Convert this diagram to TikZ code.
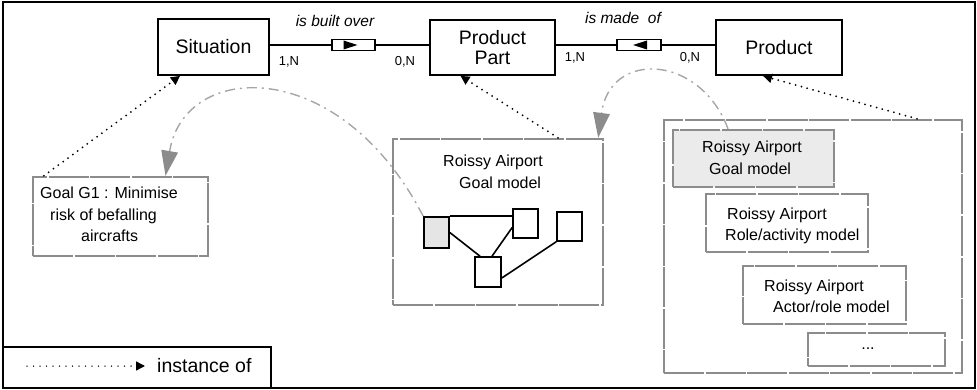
\documentclass[tikz,border=0pt]{standalone}
\usepackage{fontspec}
\setmainfont{Liberation Sans}
\usetikzlibrary{arrows.meta,calc}
\begin{document}
\begin{tikzpicture}[x=1pt,y=-1pt,
  mainbox/.style={draw,line width=1.8pt,align=center,font=\fontsize{19.5}{20}\selectfont},
  gbox/.style={draw=black!45,line width=2.4pt,dash pattern=on 40pt off 1.5pt},
  relbox/.style={draw,line width=1.6pt,inner sep=0pt},
  sq/.style={draw,line width=1.6pt,inner sep=0pt},
  txt/.style={anchor=north west,inner sep=0pt,align=left,font=\fontsize{16}{21.5}\selectfont},
  lbl/.style={inner sep=0pt,font=\fontsize{13}{14}\selectfont},
  rel/.style={inner sep=0pt,font=\itshape\fontsize{15.5}{17}\selectfont},
  inst/.style={line width=2pt,dash pattern=on 0pt off 6pt,line cap=round,-{Triangle[length=9pt,width=9pt]}},
  flow/.style={draw=black!35,line width=1.4pt,dash pattern=on 10pt off 5pt on 2pt off 5pt},
  flowhead/.style={fill=black!45},
  link/.style={line width=1.6pt}
]
\useasboundingbox (0,0) rectangle (977,390);
\draw[line width=2pt] (3,2) rectangle (975,388);

% main entities
\node[mainbox,minimum width=111pt,minimum height=56pt] (sit) at (213.5,47) {Situation};
\node[mainbox,minimum width=125pt,minimum height=55pt] (pp) at (492.5,47.5) {Product\\Part};
\node[mainbox,minimum width=126pt,minimum height=55pt] (prod) at (779,47.5) {Product};

% relation boxes
\node[relbox,minimum width=43pt,minimum height=11pt] (r1) at (353.5,45) {};
\node[relbox,minimum width=44pt,minimum height=11pt] (r2) at (639,45) {};
\fill (r1.center) ++(-10,-4.5) -- ++(0,9) -- ++(14,-4.5) -- cycle;
\fill (r2.center) ++(8,-4.5) -- ++(0,9) -- ++(-14,-4.5) -- cycle;
\draw[link] (sit.east |- r1.west) -- (r1.west);
\draw[link] (r1.east) -- (pp.west |- r1.east);
\draw[link] (pp.east |- r2.west) -- (r2.west);
\draw[link] (r2.east) -- (prod.west |- r2.east);

\node[rel] (rl1) at (335,21) {is built over};
\node[rel] (rl2) at (623,18) {is made\ \ of};
\node[lbl] (c1) at (289,62) {1,N};
\node[lbl] (c2) at (405,62) {0,N};
\node[lbl] (c3) at (575,58) {1,N};
\node[lbl] (c4) at (690,58) {0,N};

% goal G1
\node[gbox,minimum width=175pt,minimum height=79pt] (g1) at (120.5,216.5) {};
\node[txt] (tg1) at (40,187) {Goal G1 : Minimise\\\hspace*{10pt}risk of befalling\\\hspace*{41pt}aircrafts};

% goal model
\node[gbox,minimum width=210pt,minimum height=166pt] (gm) at (498,222) {};
\node[txt] (tgm) at (443,155) {Roissy Airport\\\hspace*{16pt}Goal model};
\node[sq,fill=black!10,minimum width=25pt,minimum height=31pt] (sq1) at (436.5,232.5) {};
\node[sq,minimum width=25pt,minimum height=29pt] (sq2) at (525.5,223.5) {};
\node[sq,minimum width=25pt,minimum height=29pt] (sq3) at (569.5,226.5) {};
\node[sq,minimum width=26pt,minimum height=30pt] (sq4) at (488,272) {};
\draw[link] (sq1.north east) -- (sq2.west |- sq1.north east);
\draw[link] (sq1.east) -- ([xshift=-8pt]sq4.north);
\draw[link] ([xshift=4pt]sq4.north) -- ([yshift=-4pt]sq2.west);
\draw[link] ([yshift=-6pt]sq4.east) -- (sq3.south west);

% product
\node[gbox,minimum width=298pt,minimum height=253pt] (rb) at (813,246.5) {};
\node[gbox,fill=black!8,minimum width=161pt,minimum height=57pt] (rb1) at (753.5,158.5) {};
\node[txt] (t1) at (702,141) {Roissy Airport\\\hspace*{7pt}Goal model};
\node[gbox,minimum width=162pt,minimum height=58pt] (rb2) at (787,223) {};
\node[txt] (t2) at (725,207.5) {\hspace*{2pt}Roissy Airport\\Role/activity model};
\node[gbox,minimum width=163pt,minimum height=58pt] (rb3) at (824.5,295) {};
\node[txt] (t3) at (764,279.5) {Roissy Airport\\\hspace*{9pt}Actor/role model};
\node[gbox,minimum width=137pt,minimum height=33pt] (rb4) at (876.5,349.5) {};
\node[inner sep=0pt,font=\fontsize{16}{18}\selectfont] (dots) at (868,349) {...};

% instance-of arrows
\draw[inst] ([xshift=12pt]g1.north west) -- ([xshift=-33.5pt]sit.south);
\draw[inst] ([xshift=60pt]gm.north) -- ([xshift=-32pt]pp.south);
\draw[inst] ([xshift=104pt]rb.north) -- ([xshift=-16pt]prod.south);

% gray flows
\coordinate (Ae) at ([xshift=45pt]g1.north);
\coordinate (Ac) at (185,60);
\coordinate (Ab) at ($(Ae)!25pt!(Ac)$);
\draw[flow] (sq1.north west) .. controls (340,55) and (Ac) .. (Ab);
\fill[flowhead] (Ae) -- ($(Ab)!8.5pt!90:(Ae)$) -- ($(Ab)!8.5pt!-90:(Ae)$) -- cycle;

\coordinate (Be) at ([xshift=-6pt]gm.north east);
\coordinate (Bc) at (610,50);
\coordinate (Bb) at ($(Be)!25pt!(Bc)$);
\draw[flow] ([xshift=-25.5pt]rb1.north) .. controls (700,54) and (Bc) .. (Bb);
\fill[flowhead] (Be) -- ($(Bb)!8.5pt!90:(Be)$) -- ($(Bb)!8.5pt!-90:(Be)$) -- cycle;

% legend
\node[draw,line width=2pt,minimum width=268pt,minimum height=41pt] (leg) at (137,367.5) {};
\coordinate (la) at (27,366);
\coordinate (lb) at (145,366);
\draw[line width=1.5pt,dash pattern=on 0pt off 6.5pt,line cap=round,-{Triangle[length=9pt,width=9pt]}] (la) -- (lb);
\node[anchor=west,inner sep=0pt,font=\fontsize{19.5}{20}\selectfont] (lt) at (157,366) {instance of};
\end{tikzpicture}
\end{document}
